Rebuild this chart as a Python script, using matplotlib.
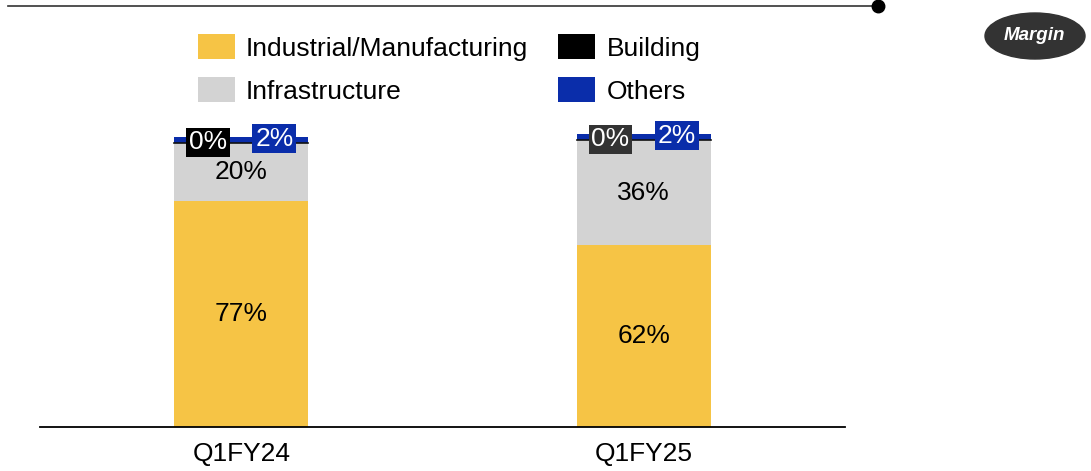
import matplotlib.pyplot as plt
from matplotlib.lines import Line2D
from matplotlib.patches import Ellipse, Patch

plt.rcParams['font.family'] = ['Liberation Sans', 'DejaVu Sans']

quarters = ["Q1FY24", "Q1FY25"]
segments = ["Industrial/Manufacturing", "Infrastructure", "Building", "Others"]
industrial = [77, 62]
infrastructure = [20, 36]
building = [0, 0]
others = [2, 2]

colors = ["#F6C445", "#D3D3D3", "#000000", "#0A2DAA"]
FS = 19

W, H = 1091, 471
fig = plt.figure(figsize=(W / 100, H / 100), dpi=100)
ax = fig.add_axes([40 / W, 44 / H, 805 / W, 293 / H])

x = list(range(len(quarters)))
bw = 0.333
bottom = [0] * len(quarters)
series = [industrial, infrastructure, building, others]
for vals, col, name in zip(series, colors, segments):
    ax.bar(x, vals, bw, bottom=bottom, color=col, label=name, zorder=2)
    bottom = [b + v for b, v in zip(bottom, vals)]

# thin dark edge under the blue cap (building slice)
for i in x:
    top_infra = industrial[i] + infrastructure[i]
    ax.plot([i - bw / 2, i + bw / 2], [top_infra, top_infra], color="#111111",
            lw=1.2, zorder=3)

# inner labels for the big slices
for i in x:
    ax.text(i, industrial[i] / 2, f"{industrial[i]}%", ha="center", va="center",
            fontsize=FS, color="black", zorder=4)
    ax.text(i, industrial[i] + infrastructure[i] / 2, f"{infrastructure[i]}%",
            ha="center", va="center", fontsize=FS, color="black", zorder=4)

# boxed labels for the small slices at the top of each bar
box_bg = ["#000000", "#333333"]
for i in x:
    total = bottom[i]
    ax.text(i - 0.083, total - 1.8, f"{building[i]}%", ha="center", va="center",
            fontsize=FS, color="white", zorder=5,
            bbox=dict(boxstyle="square,pad=0.1", fc=box_bg[i], ec="none"))
    ax.text(i + 0.082, total - 0.6, f"{others[i]}%", ha="center", va="center",
            fontsize=FS, color="white", zorder=5,
            bbox=dict(boxstyle="square,pad=0.1", fc=colors[3], ec="none"))

ax.set_xlim(-0.5, 1.5)
ax.set_ylim(0, 100)
ax.set_xticks(x)
ax.set_xticklabels(quarters, fontsize=FS)
ax.tick_params(axis="x", length=0, pad=11)
ax.set_yticks([])
for s in ["top", "right", "left"]:
    ax.spines[s].set_visible(False)
ax.spines["bottom"].set_linewidth(1.3)
ax.spines["bottom"].set_color("black")
ax.spines["bottom"].set_zorder(6)

handles = [Patch(facecolor=c) for c in colors]
fig.legend(handles, segments, loc="upper left", bbox_to_anchor=(198 / W, 1 - 34 / H),
           ncol=2, frameon=False, fontsize=FS, handlelength=1.4, handleheight=1.1,
           handletextpad=0.42, labelspacing=0.62, columnspacing=1.14, borderpad=0,
           borderaxespad=0)

# header rule with end dot
fig.add_artist(Line2D([8 / W, 878 / W], [1 - 6 / H, 1 - 6 / H], color="#333333",
                      lw=1.2, transform=fig.transFigure))
fig.add_artist(Line2D([878 / W], [1 - 6 / H], marker="o", markersize=9,
                      color="black", transform=fig.transFigure))

# "Margin" tag
fig.add_artist(Ellipse((1035 / W, 1 - 36 / H), 100 / W, 46 / H, color="#333333",
                       transform=fig.transFigure))
fig.text(1034 / W, 1 - 36 / H, "Margin", ha="center", va="center", color="white",
         fontsize=13.5, fontweight="bold", fontstyle="italic")

fig.savefig("out.png", dpi=100)
